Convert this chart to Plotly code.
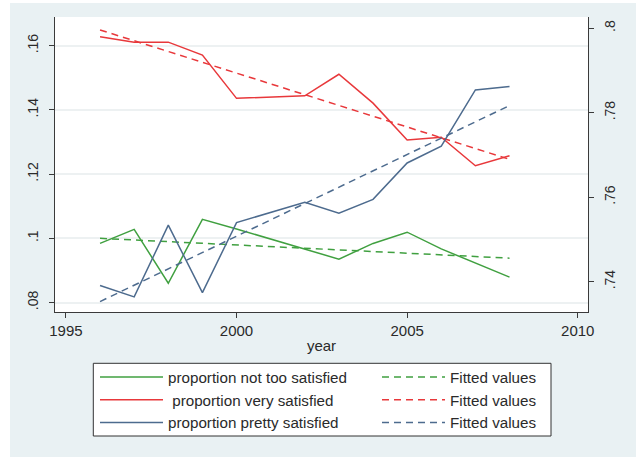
import plotly.graph_objects as go

years = [1996, 1997, 1998, 1999, 2000, 2001, 2002, 2003, 2004, 2005, 2006, 2007, 2008]
not_too = [0.0984, 0.1028, 0.0860, 0.1059, 0.1029, 0.0998, 0.0967, 0.0935, 0.0984, 0.1019, 0.0967, 0.0922, 0.0879]
very = [0.1628, 0.1611, 0.1611, 0.1571, 0.1436, 0.1440, 0.1444, 0.1511, 0.1421, 0.1306, 0.1315, 0.1226, 0.1257]
pretty = [0.7391, 0.7364, 0.7534, 0.7374, 0.7540, 0.7564, 0.7588, 0.7562, 0.7595, 0.7681, 0.7721, 0.7854, 0.7862]

fit_years = [1996, 2008]
fit_not_too = [0.1000, 0.0938]
fit_very = [0.1649, 0.1246]
fit_pretty = [0.7353, 0.7817]

x_ticks = [1995, 2000, 2005, 2010]
left_ticks = [0.08, 0.10, 0.12, 0.14, 0.16]
left_labels = [".08", ".1", ".12", ".14", ".16"]
right_ticks = [0.74, 0.76, 0.78, 0.80]
right_labels = [".74", ".76", ".78", ".8"]

GREEN = "#40a040"
RED = "#e8383b"
BLUE = "#4d6b8e"
FONT = "Liberation Sans"
TXT = "#2a2a2a"

W, H = 636, 457
ML, MR, MT, MB = 55, 48, 17, 145
PW, PH = W - ML - MR, H - MT - MB


def px_x(p):
    return (p - ML) / PW


def px_y(p):
    return (H - MB - p) / PH


fig = go.Figure()
lw = 1.5
dash = "7px,5px"
fig.add_trace(go.Scatter(x=years, y=not_too, mode="lines", name="proportion not too satisfied",
                         line=dict(color=GREEN, width=lw), legend="legend"))
fig.add_trace(go.Scatter(x=fit_years, y=fit_not_too, mode="lines", name="Fitted values",
                         line=dict(color=GREEN, width=lw, dash=dash), legend="legend2"))
fig.add_trace(go.Scatter(x=years, y=very, mode="lines", name=" proportion very satisfied",
                         line=dict(color=RED, width=lw), legend="legend"))
fig.add_trace(go.Scatter(x=fit_years, y=fit_very, mode="lines", name="Fitted values",
                         line=dict(color=RED, width=lw, dash=dash), legend="legend2"))
fig.add_trace(go.Scatter(x=years, y=pretty, mode="lines", name="proportion pretty satisfied",
                         line=dict(color=BLUE, width=lw), yaxis="y2", legend="legend"))
fig.add_trace(go.Scatter(x=fit_years, y=fit_pretty, mode="lines", name="Fitted values",
                         line=dict(color=BLUE, width=lw, dash=dash), yaxis="y2", legend="legend2"))

axis_common = dict(showline=True, linecolor="#3a3a3a", linewidth=1, ticks="outside",
                   ticklen=5, tickcolor="#3a3a3a", zeroline=False)

leg_common = dict(orientation="v", yanchor="top", xanchor="left", y=px_y(360.5),
                  bgcolor="rgba(0,0,0,0)", borderwidth=0,
                  font=dict(family=FONT, size=15.2, color=TXT),
                  itemwidth=63, tracegroupgap=0, traceorder="normal")

fig.update_layout(
    width=W, height=H,
    margin=dict(l=ML, r=MR, t=MT, b=MB, autoexpand=False),
    paper_bgcolor="#e9f1f3",
    plot_bgcolor="white",
    font=dict(family=FONT, size=14, color=TXT),
    xaxis=dict(range=[1994.68, 2010.3], tickvals=x_ticks, showgrid=False,
               tickfont=dict(family=FONT, size=15, color=TXT),
               title=dict(text="year", font=dict(family=FONT, size=15, color=TXT), standoff=2),
               **axis_common),
    yaxis=dict(range=[0.07704, 0.16894], tickvals=left_ticks, ticktext=left_labels,
               tickfont=dict(family=FONT, size=14, color=TXT), ticklabelstandoff=5,
               tickangle=-90, showgrid=True, gridcolor="#edf1f2", gridwidth=1.5, **axis_common),
    yaxis2=dict(range=[0.73283, 0.80265], tickvals=right_ticks, ticktext=right_labels,
                tickfont=dict(family=FONT, size=14, color=TXT), ticklabelstandoff=4,
                tickangle=-90, overlaying="y", side="right", showgrid=False, **axis_common),
    showlegend=True,
    legend=dict(x=px_x(95), **leg_common),
    legend2=dict(x=px_x(377), **leg_common),
)

# legend frame enclosing both legend columns
fig.add_shape(type="rect", xref="paper", yref="paper",
              x0=px_x(93.3), x1=px_x(551), y0=px_y(436), y1=px_y(363.3),
              fillcolor="white", line=dict(color="#333", width=1), layer="above")

# white strips at the top and left edges of the picture
fig.add_shape(type="rect", xref="paper", yref="paper", x0=px_x(0), x1=px_x(10), y0=px_y(H), y1=px_y(0),
              fillcolor="white", line=dict(width=0), layer="below")
fig.add_shape(type="rect", xref="paper", yref="paper", x0=px_x(0), x1=px_x(W), y0=px_y(3), y1=px_y(0),
              fillcolor="white", line=dict(width=0), layer="below")

fig.write_html("out.html", config={"displayModeBar": False},
               post_script="document.body.style.margin='0';")
